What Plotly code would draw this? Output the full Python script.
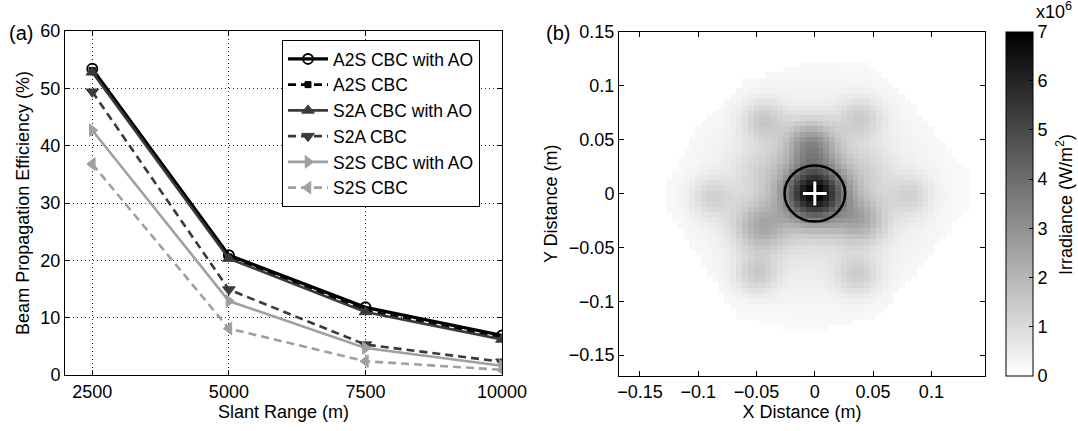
import numpy as np
import plotly.graph_objects as go

# ---------------- Panel (a) data ----------------
slant_range = [2500, 5000, 7500, 10000]
a2s_ao = [53.4, 20.9, 11.8, 6.9]
a2s = [53.1, 20.6, 11.3, 6.5]
s2a_ao = [52.8, 20.3, 11.0, 6.2]
s2a = [49.4, 14.9, 5.3, 2.3]
s2s_ao = [42.7, 12.9, 4.7, 1.6]
s2s = [36.8, 8.1, 2.4, 0.9]

series_names = ["A2S CBC with AO", "A2S CBC", "S2A CBC with AO", "S2A CBC",
                "S2S CBC with AO", "S2S CBC"]

# ---------------- Panel (b) data (irradiance spot pattern, W/m^2) ----------------
spot_x = [0.0, -0.003, -0.046, 0.039, -0.044, 0.039, -0.088, 0.082, -0.050, 0.037, -0.045, 0.042]
spot_y = [0.0, 0.045, -0.031, -0.025, 0.068, 0.070, -0.004, -0.002, -0.075, -0.076, 0.022, 0.022]
spot_peak = [6.0e6, 2.4e6, 1.7e6, 1.6e6, 1.1e6, 1.0e6, 0.9e6, 0.85e6, 1.1e6, 1.0e6, 0.5e6, 0.45e6]
spot_sigma = [0.018, 0.015, 0.016, 0.015, 0.013, 0.013, 0.013, 0.013, 0.013, 0.013, 0.016, 0.016]
halo_peak = 1.0e6
halo_sigma = 0.055
floor_level = 0.1e6
aperture_x = [-0.129, -0.100, -0.060, -0.020, 0.000, 0.047, 0.090, 0.131, 0.131,
              0.090, 0.053, 0.000, -0.030, -0.067, -0.100, -0.129]
aperture_y = [0.005, 0.060, 0.105, 0.118, 0.123, 0.121, 0.075, 0.020, -0.015,
              -0.070, -0.115, -0.128, -0.125, -0.115, -0.060, -0.010]
grid_x = np.arange(-0.165, 0.1451, 0.005)
grid_y = np.arange(-0.165, 0.1451, 0.005)
bucket_radius = 0.026
centroid = (0.0, 0.0)

# build irradiance image from the read spot parameters
GX, GY = np.meshgrid(grid_x, grid_y)
field = halo_peak * np.exp(-(GX**2 + GY**2) / (2 * halo_sigma**2)) + floor_level
for sx, sy, pk, sg in zip(spot_x, spot_y, spot_peak, spot_sigma):
    field += pk * np.exp(-((GX - sx)**2 + (GY - sy)**2) / (2 * sg**2))


def inside(px, py, vx, vy):
    res = np.zeros(px.shape, dtype=bool)
    n = len(vx)
    j = n - 1
    for i in range(n):
        xi, yi, xj, yj = vx[i], vy[i], vx[j], vy[j]
        cond = ((yi > py) != (yj > py)) & (px < (xj - xi) * (py - yi) / (yj - yi + 1e-12) + xi)
        res ^= cond
        j = i
    return res


mask = inside(GX, GY, aperture_x, aperture_y)
irr = np.where(mask, np.minimum(field, 7e6), 0.0)

W, H = 1078, 431
FONT = "Liberation Sans, Arial, Helvetica, sans-serif"
FS = 18

fig = go.Figure()

styles = [
    dict(color="#000000", width=3.2, dash="solid", symbol="circle-open", msize=10, mline=2),
    dict(color="#000000", width=2.6, dash="8px,5px", symbol="square", msize=6, mline=1),
    dict(color="#3a3a3a", width=2.6, dash="solid", symbol="triangle-up", msize=11, mline=1),
    dict(color="#3a3a3a", width=2.6, dash="8px,5px", symbol="triangle-down", msize=11, mline=1),
    dict(color="#a0a0a0", width=2.6, dash="solid", symbol="triangle-right", msize=11, mline=1),
    dict(color="#a0a0a0", width=2.6, dash="8px,5px", symbol="triangle-left", msize=11, mline=1),
]
for name, ys, st in zip(series_names, [a2s_ao, a2s, s2a_ao, s2a, s2s_ao, s2s], styles):
    fig.add_trace(go.Scatter(
        x=slant_range, y=ys, name=name, mode="lines+markers",
        line=dict(color=st["color"], width=st["width"], dash=st["dash"]),
        marker=dict(symbol=st["symbol"], size=st["msize"], color=st["color"],
                    line=dict(color=st["color"], width=st["mline"])),
        xaxis="x", yaxis="y",
    ))

fig.add_trace(go.Heatmap(
    x=grid_x, y=grid_y, z=irr, xaxis="x2", yaxis="y2",
    zmin=0, zmax=7e6,
    colorscale=[[0, "rgb(255,255,255)"], [1, "rgb(0,0,0)"]],
    showlegend=False, zsmooth=False,
    colorbar=dict(
        x=1006 / W, xanchor="left", xpad=0,
        y=1 - 203.7 / H, yanchor="middle", ypad=0,
        len=344, lenmode="pixels", thickness=27, thicknessmode="pixels",
        outlinecolor="black", outlinewidth=1,
        tickvals=[i * 1e6 for i in range(8)], ticktext=[str(i) for i in range(8)],
        ticks="inside", ticklen=4, tickcolor="black",
        tickfont=dict(family=FONT, size=FS, color="black"),
    ),
))

fig.add_trace(go.Scatter(
    x=[centroid[0]], y=[centroid[1]], mode="markers", showlegend=False,
    marker=dict(symbol="cross-thin", size=17, line=dict(color="white", width=3)),
    xaxis="x2", yaxis="y2",
))

fig.add_shape(type="circle", xref="x2", yref="y2",
              x0=centroid[0] - bucket_radius, x1=centroid[0] + bucket_radius,
              y0=centroid[1] - bucket_radius, y1=centroid[1] + bucket_radius,
              line=dict(color="black", width=2.5))

axis_common = dict(showline=True, linecolor="black", linewidth=1, mirror="ticks",
                   ticks="inside", ticklen=5, tickcolor="black", automargin=False,
                   tickfont=dict(family=FONT, size=FS, color="black"), zeroline=False)

fig.update_layout(
    width=W, height=H, margin=dict(l=0, r=0, t=0, b=0, autoexpand=False),
    paper_bgcolor="white", plot_bgcolor="white",
    font=dict(family=FONT, size=FS, color="black"),
    xaxis=dict(domain=[65 / W, 502 / W], range=[2000, 10000], anchor="y",
               tickvals=slant_range, ticktext=[str(v) for v in slant_range],
               showgrid=True, gridcolor="#222222", gridwidth=1, griddash="1px,3px",
               title=dict(text="Slant Range (m)", font=dict(family=FONT, size=FS), standoff=2),
               **axis_common),
    yaxis=dict(domain=[1 - 375 / H, 1 - 31 / H], range=[0, 60], anchor="x",
               tickvals=[0, 10, 20, 30, 40, 50, 60],
               showgrid=True, gridcolor="#222222", gridwidth=1, griddash="1px,3px",
               title=dict(text="Beam Propagation Efficiency (%)", font=dict(family=FONT, size=FS), standoff=6),
               **axis_common),
    xaxis2=dict(domain=[619 / W, 985 / W], range=[-0.168, 0.146], anchor="y2",
                tickvals=[-0.15, -0.1, -0.05, 0, 0.05, 0.1],
                ticktext=["\u22120.15", "\u22120.1", "\u22120.05", "0", "0.05", "0.1"],
                showgrid=False,
                title=dict(text="X Distance (m)", font=dict(family=FONT, size=FS), standoff=2),
                **axis_common),
    yaxis2=dict(domain=[1 - 375.5 / H, 1 - 32 / H], range=[-0.169, 0.15], anchor="x2",
                tickvals=[-0.15, -0.1, -0.05, 0, 0.05, 0.1, 0.15],
                ticktext=["\u22120.15", "\u22120.1", "\u22120.05", "0", "0.05", "0.1", "0.15"],
                showgrid=False,
                title=dict(text="Y Distance (m)", font=dict(family=FONT, size=FS), standoff=6),
                **axis_common),
    legend=dict(x=282 / W, xanchor="left", y=1 - 40 / H, yanchor="top",
                bgcolor="white", bordercolor="black", borderwidth=1,
                font=dict(family=FONT, size=17.5, color="black"),
                tracegroupgap=0, itemwidth=40),
    annotations=[
        dict(text="(a)", x=7 / W, y=1 - 33 / H, xref="paper", yref="paper",
             xanchor="left", yanchor="middle", showarrow=False,
             font=dict(family=FONT, size=20, color="black")),
        dict(text="(b)", x=544 / W, y=1 - 33 / H, xref="paper", yref="paper",
             xanchor="left", yanchor="middle", showarrow=False,
             font=dict(family=FONT, size=20, color="black")),
        dict(text="x10<sup>6</sup>", x=1034 / W, y=1 - 10 / H, xref="paper", yref="paper",
             xanchor="left", yanchor="middle", showarrow=False,
             font=dict(family=FONT, size=FS, color="black")),
        dict(text="Irradiance (W/m<sup>2</sup>)", x=1064 / W, y=1 - 205 / H,
             xref="paper", yref="paper", xanchor="center", yanchor="middle",
             textangle=-90, showarrow=False,
             font=dict(family=FONT, size=FS, color="black")),
    ],
)

fig.write_html("out.html")
